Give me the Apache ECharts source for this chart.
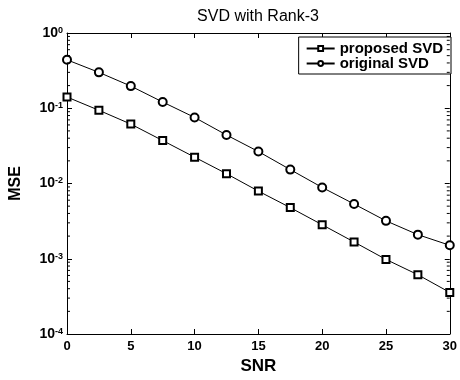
<!DOCTYPE html>
<html>
<head>
<meta charset="utf-8">
<script src="https://cdn.jsdelivr.net/npm/echarts@6/dist/echarts.min.js"></script>
<style>
    html, body { margin: 0; padding: 0; background: #fff; }
    #mainChart { width: 460px; height: 380px; }
</style>
</head>
<body>
<div id="mainChart"></div>
<script>
// SNR values (x)
const snr = [0, 2.5, 5, 7.5, 10, 12.5, 15, 17.5, 20, 22.5, 25, 27.5, 30];
// MSE
const proposedSVD = [0.141, 0.094, 0.0616, 0.0372, 0.0224, 0.0135, 0.00792, 0.00478, 0.00283, 0.00167, 0.00098, 0.000613, 0.000357];
const originalSVD = [0.44, 0.30, 0.197, 0.121, 0.0755, 0.0441, 0.0266, 0.0153, 0.00886, 0.00534, 0.00319, 0.00209, 0.00151];
const seriesNames = ['proposed SVD', 'original SVD'];
const xTicks = [0, 5, 10, 15, 20, 25, 30];

// minor tick positions of the log axis: 2..9 times each decade
const minorVals = [];
[1e-4, 1e-3, 1e-2, 1e-1].forEach(function (d) {
    for (let k = 2; k <= 9; k++) {
        minorVals.push(d * k);
    }
});

const fontFam = '"Liberation Sans", Arial, sans-serif';

function pair(ys) {
    return snr.map(function (x, i) { return [x, ys[i]]; });
}

const myChart = echarts.init(document.getElementById('mainChart'));

const option = {
    backgroundColor: '#fff',
    animation: false,
    title: {
        text: 'SVD with Rank-3',
        left: 258,
        textAlign: 'center',
        top: 9,
        padding: 0,
        textStyle: {
            fontFamily: fontFam,
            fontSize: 16,
            fontWeight: 'normal',
            color: '#000'
        }
    },
    legend: {
        data: seriesNames,
        orient: 'vertical',
        right: 9,
        top: 37,
        padding: [4, 8, 3, 7],
        itemGap: 0,
        itemWidth: 28,
        itemHeight: 6,
        backgroundColor: '#fff',
        borderColor: '#000',
        borderWidth: 1,
        borderRadius: 0,
        textStyle: {
            fontFamily: fontFam,
            fontSize: 15,
            fontWeight: 'bold',
            color: '#000',
            lineHeight: 14
        }
    },
    grid: {
        left: 64,
        right: 8,
        top: 33,
        bottom: 42
    },
    xAxis: [
        {
            type: 'value',
            min: 0,
            max: 30,
            interval: 5,
            name: 'SNR',
            nameLocation: 'middle',
            nameGap: 24,
            nameTextStyle: {
                fontFamily: fontFam,
                fontSize: 17,
                fontWeight: 'bold',
                color: '#000'
            },
            axisLine: { show: true, onZero: false, lineStyle: { color: '#000', width: 1 } },
            axisTick: { show: true, inside: true, length: 5, lineStyle: { color: '#000' } },
            axisLabel: {
                margin: 6,
                fontFamily: fontFam,
                fontSize: 13,
                fontWeight: 'bold',
                color: '#000',
                formatter: function (v) { return xTicks.indexOf(v) >= 0 ? String(v) : ''; }
            },
            splitLine: { show: false }
        },
        {
            type: 'value',
            position: 'top',
            min: 0,
            max: 30,
            interval: 5,
            axisLine: { show: true, onZero: false, lineStyle: { color: '#000', width: 1 } },
            axisTick: { show: true, inside: true, length: 5, lineStyle: { color: '#000' } },
            axisLabel: { show: false },
            splitLine: { show: false }
        }
    ],
    yAxis: [
        {
            type: 'log',
            logBase: 10,
            min: 1e-4,
            max: 1,
            name: 'MSE',
            nameLocation: 'middle',
            nameGap: 43,
            nameTextStyle: {
                fontFamily: fontFam,
                fontSize: 16,
                fontWeight: 'bold',
                color: '#000'
            },
            axisLine: { show: true, onZero: false, lineStyle: { color: '#000', width: 1 } },
            axisTick: { show: true, inside: true, length: 5, lineStyle: { color: '#000' } },
            axisLabel: {
                margin: 4,
                color: '#000',
                fontFamily: fontFam,
                fontSize: 13,
                fontWeight: 'bold',
                formatter: function (v) {
                    const e = Math.round(Math.log10(v));
                    return '{b|10}{e|' + e + '}';
                },
                rich: {
                    b: {
                        fontFamily: fontFam,
                        fontSize: 14,
                        fontWeight: 'bold',
                        color: '#000',
                        lineHeight: 14
                    },
                    e: {
                        fontFamily: fontFam,
                        fontSize: 9,
                        fontWeight: 'bold',
                        color: '#000',
                        verticalAlign: 'top',
                        lineHeight: 9,
                        padding: [0, 0, 6, 0]
                    }
                }
            },
            splitLine: { show: false }
        },
        {
            type: 'log',
            logBase: 10,
            min: 1e-4,
            max: 1,
            position: 'right',
            axisLine: { show: true, onZero: false, lineStyle: { color: '#000', width: 1 } },
            axisTick: { show: true, inside: true, length: 5, lineStyle: { color: '#000' } },
            axisLabel: { show: false },
            splitLine: { show: false }
        }
    ],
    series: [
        {
            name: seriesNames[0],
            type: 'line',
            data: pair(proposedSVD),
            symbol: 'emptyRect',
            symbolSize: 7,
            lineStyle: { color: '#000', width: 1 },
            itemStyle: { color: '#000', borderColor: '#000', borderWidth: 1 },
            z: 3
        },
        {
            name: seriesNames[1],
            type: 'line',
            data: pair(originalSVD),
            symbol: 'emptyCircle',
            symbolSize: 8,
            lineStyle: { color: '#000', width: 1 },
            itemStyle: { color: '#000', borderColor: '#000', borderWidth: 1 },
            z: 3
        },
        {
            // minor ticks of the log axis, both sides
            type: 'custom',
            silent: true,
            data: minorVals.map(function (v) { return [0, v]; }),
            renderItem: function (params, api) {
                const l = api.coord([0, api.value(1)]);
                const r = api.coord([30, api.value(1)]);
                return {
                    type: 'group',
                    children: [
                        { type: 'line', shape: { x1: l[0], y1: l[1], x2: l[0] + 3, y2: l[1] }, style: { stroke: '#000', lineWidth: 1 } },
                        { type: 'line', shape: { x1: r[0], y1: r[1], x2: r[0] - 3, y2: r[1] }, style: { stroke: '#000', lineWidth: 1 } }
                    ]
                };
            },
            z: 4
        }
    ]
};

myChart.setOption(option);
</script>
</body>
</html>
